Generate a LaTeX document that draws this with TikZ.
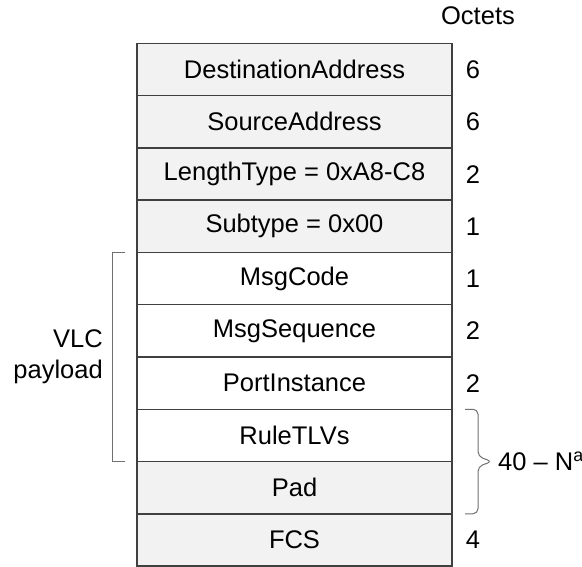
\documentclass[tikz,border=0pt]{standalone}
\usepackage{fontspec}
\setmainfont{Liberation Sans}
\usetikzlibrary{calc}
\definecolor{edgec}{HTML}{404040}
\definecolor{cellgray}{HTML}{F2F2F2}
\definecolor{brk}{HTML}{707070}
\begin{document}
\begin{tikzpicture}[x=1pt,y=-1pt,
  field/.style={draw=edgec, line width=1.5pt, minimum width=315pt, minimum height=52.25pt,
    inner sep=0pt, outer sep=0pt, anchor=north west, font=\fontsize{25.5}{30}\selectfont},
  grayfield/.style={field, fill=cellgray},
  whitefield/.style={field, fill=white},
  octet/.style={font=\fontsize{25.5}{30}\selectfont, inner sep=0pt},
  lbl/.style={font=\fontsize{25.5}{31}\selectfont, inner sep=0pt},
  brk/.style={draw=brk, line width=1pt}
]
\useasboundingbox (0,0) rectangle (582,567);
\node[grayfield]  (dst)  at (137,43.5)   {DestinationAddress};
\node[grayfield]  (src)  at (137,95.75)  {SourceAddress};
\node[grayfield]  (len)  at (137,148)    {LengthType = 0xA8-C8};
\node[grayfield]  (sub)  at (137,200.25) {Subtype = 0x00};
\node[whitefield] (code) at (137,252.5)  {MsgCode};
\node[whitefield] (seq)  at (137,304.75) {MsgSequence};
\node[whitefield] (port) at (137,357)    {PortInstance};
\node[whitefield] (rule) at (137,409.25) {RuleTLVs};
\node[grayfield]  (pad)  at (137,461.5)  {Pad};
\node[grayfield]  (fcs)  at (137,513.75) {FCS};

\node[octet] (octets) at (478,16) {Octets};
\node[octet] (ndst)  at (473,69.6)  {6};
\node[octet] (nsrc)  at (473,121.9) {6};
\node[octet] (nlen)  at (473,174.1) {2};
\node[octet] (nsub)  at (473,226.4) {1};
\node[octet] (ncode) at (473,278.6) {1};
\node[octet] (nseq)  at (473,330.9) {2};
\node[octet] (nport) at (473,383.1) {2};
\node[octet] (nfcs)  at (473,539.9) {4};

% VLC payload bracket
\coordinate (lbt) at ($(code.north west)+(-12,0)$);
\coordinate (lbb) at ($(rule.south west)+(-12,0)$);
\draw[brk] (lbt) -- ++(-13,0) |- (lbb);
\node[lbl, align=right, anchor=east] (vlc) at (103,357) {VLC\\payload};

% 40 - N brace
\coordinate (rbt) at ($(rule.north east)+(13,0)$);
\coordinate (rbb) at ($(pad.south east)+(13,0)$);
\coordinate (rbm) at ($(rule.south east)+(40,0)$);
\draw[brk, rounded corners=5pt] (rbt) -- ++(13,0) -- ($(rule.south east)+(26,-5)$)
  -- (rbm) -- ($(rule.south east)+(26,5)$) -- ($(rbb)+(13,0)$) -- (rbb);
\node[octet, anchor=west] (len40) at ($(rule.south east)+(46,0)$) {40 – N\textsuperscript{a}};
\end{tikzpicture}
\end{document}
